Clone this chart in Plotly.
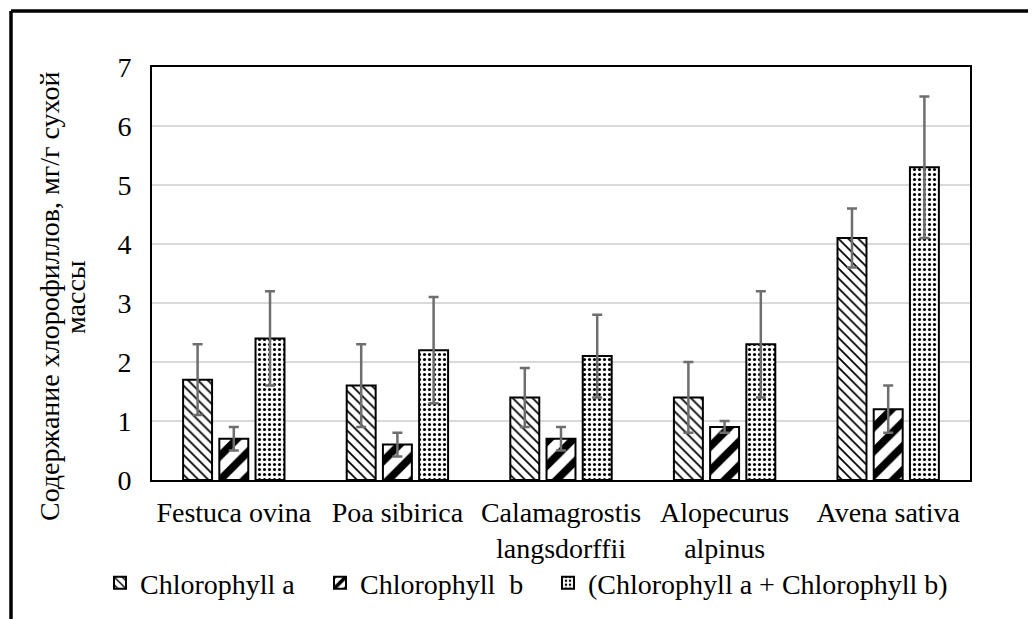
import plotly.graph_objects as go

categories = ["Festuca ovina", "Poa sibirica", "Calamagrostis<br>langsdorffii",
              "Alopecurus<br>alpinus", "Avena sativa"]
series_names = ["Chlorophyll a", "Chlorophyll\u00a0 b", "(Chlorophyll a + Chlorophyll b)"]
chl_a = [1.7, 1.6, 1.4, 1.4, 4.1]
chl_a_err = [0.6, 0.7, 0.5, 0.6, 0.5]
chl_b = [0.7, 0.6, 0.7, 0.9, 1.2]
chl_b_err = [0.2, 0.2, 0.2, 0.1, 0.4]
chl_sum = [2.4, 2.2, 2.1, 2.3, 5.3]
chl_sum_err = [0.8, 0.9, 0.7, 0.9, 1.2]
y_title_1 = "Содержание хлорофиллов, мг/г сухой"
y_title_2 = "массы"

FONT = "Liberation Serif, Times New Roman, Tinos, serif"
FS = 28
ERR = dict(type="data", visible=True, color="#6e6e6e", thickness=2.5, width=5)

patterns = [
    dict(shape="\\", fgcolor="black", bgcolor="white", size=7, solidity=0.25, fgopacity=1),
    dict(shape="/", fgcolor="black", bgcolor="white", size=17, solidity=0.45, fgopacity=1),
    dict(shape=".", fgcolor="black", bgcolor="white", size=5, solidity=0.3, fgopacity=1),
]
values = [chl_a, chl_b, chl_sum]
errors = [chl_a_err, chl_b_err, chl_sum_err]
legend_ids = ["legend", "legend2", "legend3"]

# page has an 8px body margin; figure coordinates = page coordinates - 8
OFF = 8
W, H = 1036 - OFF, 619 - OFF
L, T = 152 - OFF, 67 - OFF
R = W - (970 - OFF)
B = H - (480 - OFF)
pw, ph = W - L - R, H - T - B

def px_x(px):
    return (px - OFF - L) / pw

def px_y(py):
    return (H - B - (py - OFF)) / ph

fig = go.Figure()
for name, v, e, p, lg in zip(series_names, values, errors, patterns, legend_ids):
    fig.add_trace(go.Bar(
        x=categories, y=v, name=name, legend=lg,
        marker=dict(color="white", pattern=p, line=dict(color="black", width=2)),
        error_y=dict(array=e, **ERR),
    ))

legend_left = [100, 320, 548]  # page px
legend_common = dict(orientation="h", xanchor="left", y=px_y(583), yanchor="middle",
                     font=dict(family=FONT, size=FS, color="black"),
                     bgcolor="rgba(0,0,0,0)", borderwidth=0, itemclick=False)

fig.update_layout(
    width=W, height=H,
    margin=dict(l=L, r=R, t=T, b=B, autoexpand=False),
    paper_bgcolor="white", plot_bgcolor="white",
    font=dict(family=FONT, size=FS, color="black"),
    barmode="group", bargap=0.336, bargroupgap=0.2,
    showlegend=True,
    legend=dict(x=px_x(legend_left[0]), **legend_common),
    legend2=dict(x=px_x(legend_left[1]), **legend_common),
    legend3=dict(x=px_x(legend_left[2]), **legend_common),
    xaxis=dict(showline=True, linecolor="black", linewidth=2, mirror=True,
               ticks="", ticklabelstandoff=6, tickfont=dict(family=FONT, size=FS)),
    yaxis=dict(range=[0, 7], dtick=1, showline=True, linecolor="black", linewidth=2,
               mirror=True, showgrid=True, gridcolor="#d9d9d9", gridwidth=2,
               zeroline=False, ticks="", ticklabelstandoff=13,
               tickfont=dict(family=FONT, size=FS)),
)

fig.add_annotation(text=y_title_1, textangle=-90, xref="paper", yref="paper",
                   x=px_x(49), y=px_y(297), xanchor="center", yanchor="middle",
                   showarrow=False, font=dict(family=FONT, size=FS))
fig.add_annotation(text=y_title_2, textangle=-90, xref="paper", yref="paper",
                   x=px_x(75), y=px_y(297), xanchor="center", yanchor="middle",
                   showarrow=False, font=dict(family=FONT, size=FS))

# outer frame (left and top edges visible)
fig.add_shape(type="line", xref="paper", yref="paper",
              x0=px_x(11), y0=px_y(11), x1=px_x(11), y1=px_y(640),
              line=dict(color="black", width=3.5))
fig.add_shape(type="line", xref="paper", yref="paper",
              x0=px_x(11), y0=px_y(11), x1=px_x(1060), y1=px_y(11),
              line=dict(color="black", width=3.5))

fig.write_html("out.html")
